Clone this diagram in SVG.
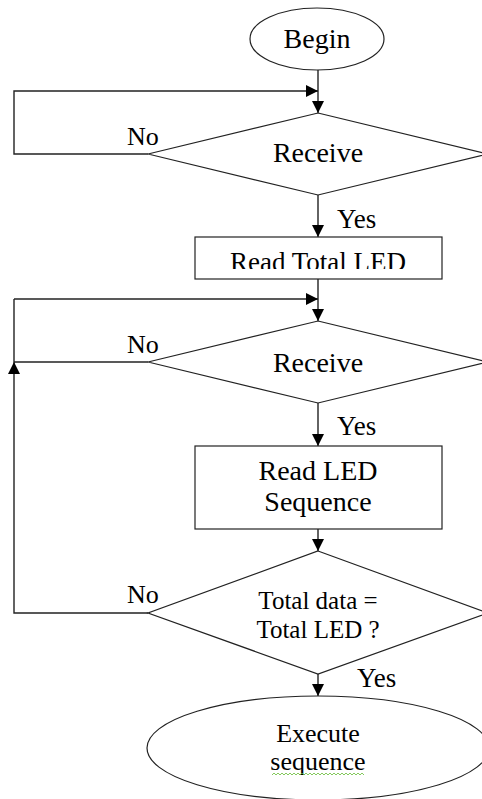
<svg xmlns="http://www.w3.org/2000/svg" width="482" height="799" viewBox="0 0 482 799">
<style>
.s{fill:#fff;stroke:#222;stroke-width:1.2}
.c{fill:none;stroke:#222;stroke-width:1.4}
.t{font-family:"Liberation Serif","Times New Roman",serif;font-size:26px;fill:#000}
.b{font-size:28px}
.m{text-anchor:middle}
</style>
<defs>
<marker id="ah" markerUnits="userSpaceOnUse" markerWidth="14" markerHeight="14" refX="12" refY="6" orient="auto">
<path d="M0,0 L12,6 L0,12 Z" fill="#000"/>
</marker>
<clipPath id="clipTL"><rect x="195" y="237" width="247" height="32"/></clipPath>
</defs>
<rect width="482" height="799" fill="#fff"/>
<g id="connectors">
<line class="c" x1="318" y1="70" x2="318" y2="113" marker-end="url(#ah)"/>
<polyline class="c" points="148,154 14,154 14,91 318,91" marker-end="url(#ah)"/>
<line class="c" x1="318" y1="195" x2="318" y2="237" marker-end="url(#ah)"/>
<line class="c" x1="318" y1="279" x2="318" y2="321" marker-end="url(#ah)"/>
<line class="c" x1="14" y1="299" x2="318" y2="299" marker-end="url(#ah)"/>
<line class="c" x1="148" y1="362" x2="14" y2="362"/>
<polyline class="c" points="148,613 14,613 14,362" marker-end="url(#ah)"/>
<line class="c" x1="14" y1="362" x2="14" y2="299"/>
<line class="c" x1="318" y1="403" x2="318" y2="446" marker-end="url(#ah)"/>
<line class="c" x1="318" y1="529" x2="318" y2="551" marker-end="url(#ah)"/>
<line class="c" x1="318" y1="674" x2="318" y2="696" marker-end="url(#ah)"/>
<text class="t" x="127" y="145">No</text>
<text class="t" x="337" y="228" style="font-size:27px">Yes</text>
<text class="t" x="127" y="353">No</text>
<text class="t" x="337" y="435" style="font-size:27px">Yes</text>
<text class="t" x="127" y="603">No</text>
<text class="t" x="357" y="687" style="font-size:27px">Yes</text>
</g>
<g id="begin">
<ellipse class="s" cx="317" cy="39" rx="67" ry="31"/>
<text class="t b m" x="317" y="48">Begin</text>
</g>
<g id="receive1">
<polygon class="s" points="318,113 488,154 318,195 148,154"/>
<text class="t b m" x="318" y="162">Receive</text>
</g>
<g id="readTotal">
<rect class="s" x="195" y="237" width="247" height="42"/>
<text class="t m" x="318" y="271" style="font-size:27px" clip-path="url(#clipTL)">Read Total LED</text>
</g>
<g id="receive2">
<polygon class="s" points="318,321 488,362 318,403 148,362"/>
<text class="t b m" x="318" y="372">Receive</text>
</g>
<g id="readSeq">
<rect class="s" x="195" y="446" width="247" height="83"/>
<text class="t b m" x="318" y="480">Read LED</text>
<text class="t b m" x="318" y="511">Sequence</text>
</g>
<g id="check">
<polygon class="s" points="318,551 488,613 318,674 148,613"/>
<text class="t m" x="318" y="609" style="font-size:25px">Total data =</text>
<text class="t m" x="318" y="638" style="font-size:25px">Total LED ?</text>
</g>
<g id="execute">
<ellipse class="s" cx="318" cy="748" rx="171" ry="52"/>
<text class="t m" x="318" y="742">Execute</text>
<text class="t m" x="318" y="770">sequence</text>
<path d="M272,775 l2,-2 l2,2 l2,-2 l2,2 l2,-2 l2,2 l2,-2 l2,2 l2,-2 l2,2 l2,-2 l2,2 l2,-2 l2,2 l2,-2 l2,2 l2,-2 l2,2 l2,-2 l2,2 l2,-2 l2,2 l2,-2 l2,2 l2,-2 l2,2 l2,-2 l2,2 l2,-2 l2,2 l2,-2 l2,2 l2,-2 l2,2 l2,-2 l2,2 l2,-2 l2,2 l2,-2 l2,2 l2,-2 l2,2 l2,-2 l2,2 l2,-2 l2,2" fill="none" stroke="#6b3" stroke-width="0.8"/>
</g>
</svg>
